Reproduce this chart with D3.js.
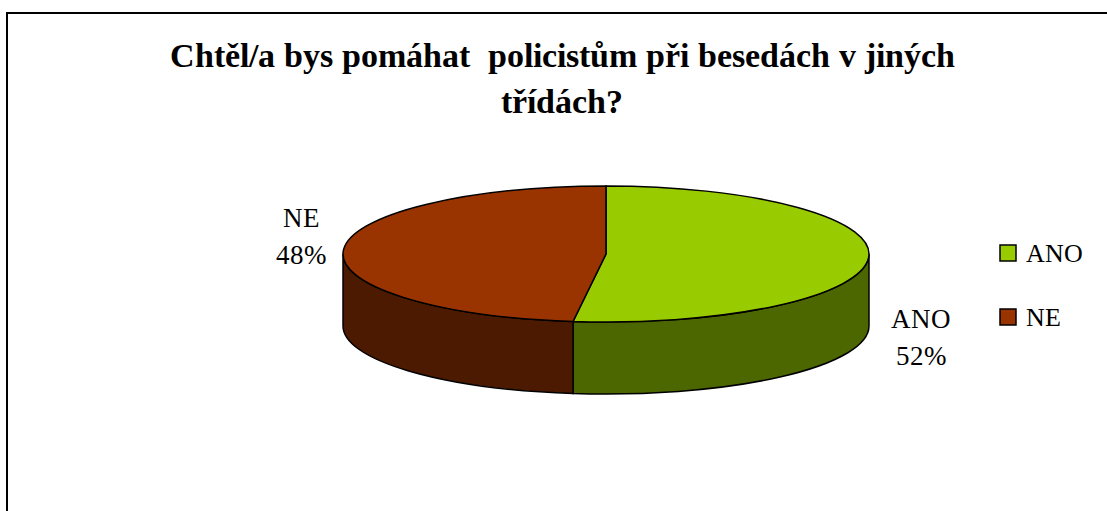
<!DOCTYPE html>
<html>
<head>
<meta charset="utf-8">
<script src="https://cdn.jsdelivr.net/npm/d3@7"></script>
<style>
@font-face { font-family: "ChartSerif"; font-weight: 400; src: local("Liberation Serif"), local("LiberationSerif"), local("Times New Roman"); }
@font-face { font-family: "ChartSerif"; font-weight: 700; src: local("Liberation Serif Bold"), local("LiberationSerif-Bold"), local("Times New Roman Bold"); }
html,body{margin:0;padding:0;background:#fff;}
svg{display:block;}
</style>
</head>
<body>
<svg id="chart" width="1107" height="511"></svg>
<script>
const categories = ["ANO", "NE"];
const values = [52, 48];
const labels = ["52%", "48%"];
const topColors = ["#99CC00", "#993300"];
const sideColors = ["#4C6600", "#4C1A00"];
const titleLines = ["Chtěl/a bys pomáhat\u00A0 policistům při besedách v jiných", "třídách?"];

const FONT = "ChartSerif, Liberation Serif, Times New Roman, serif";
const svg = d3.select("#chart");

// frame
svg.append("rect").attr("x", 7).attr("y", 13).attr("width", 1120).attr("height", 520)
  .attr("fill", "#fff").attr("stroke", "#000").attr("stroke-width", 2);

// 3D pie
const cx = 606, cy = 254, rx = 263, ry = 68, depth = 72;
const pie = d3.pie().sort(null).startAngle(0).endAngle(2 * Math.PI);
const arcs = pie(values);
const pt = (a, dy = 0) => [cx + rx * Math.sin(a), cy - ry * Math.cos(a) + dy];

const g = svg.append("g");
arcs.forEach((d, i) => {
  const a0 = Math.max(d.startAngle, Math.PI / 2);
  const a1 = Math.min(d.endAngle, 3 * Math.PI / 2);
  if (a1 <= a0) return;
  const p0 = pt(a0), p1 = pt(a1), q1 = pt(a1, depth), q0 = pt(a0, depth);
  const large = (a1 - a0) > Math.PI ? 1 : 0;
  const path = `M${p0}A${rx},${ry} 0 ${large} 1 ${p1}L${q1}A${rx},${ry} 0 ${large} 0 ${q0}Z`;
  g.append("path").attr("d", path).attr("fill", sideColors[i])
    .attr("stroke", "#000").attr("stroke-width", 1.5);
});
arcs.forEach((d, i) => {
  const p0 = pt(d.startAngle), p1 = pt(d.endAngle);
  const large = (d.endAngle - d.startAngle) > Math.PI ? 1 : 0;
  const path = `M${cx},${cy}L${p0}A${rx},${ry} 0 ${large} 1 ${p1}Z`;
  g.append("path").attr("d", path).attr("fill", topColors[i])
    .attr("stroke", "#000").attr("stroke-width", 1.5);
});

// title
titleLines.forEach((line, i) => {
  svg.append("text").attr("x", 562).attr("y", 67 + i * 46).attr("text-anchor", "middle")
    .style("font-family", FONT).style("font-weight", "bold").style("font-size", "34px")
    .text(line);
});

// data labels
const labelPos = [[921, 328], [301, 227]];
arcs.forEach((d, i) => {
  svg.append("text").attr("x", labelPos[i][0]).attr("y", labelPos[i][1])
    .attr("text-anchor", "middle").style("font-family", FONT).style("font-size", "27px")
    .text(categories[i]);
  svg.append("text").attr("x", labelPos[i][0]).attr("y", labelPos[i][1] + 37)
    .attr("text-anchor", "middle").style("font-family", FONT).style("font-size", "27px")
    .text(labels[i]);
});

// legend
const lg = svg.append("g");
categories.forEach((c, i) => {
  const y = 245 + i * 64;
  lg.append("rect").attr("x", 1000).attr("y", y).attr("width", 16).attr("height", 16)
    .attr("fill", topColors[i]).attr("stroke", "#000").attr("stroke-width", 1.5);
  lg.append("text").attr("x", 1026).attr("y", y + 17)
    .style("font-family", FONT).style("font-size", "26px").text(c);
});

if (document.fonts && document.fonts.load) {
  document.fonts.load("34px ChartSerif");
  document.fonts.load("bold 34px ChartSerif");
}
</script>
</body>
</html>
